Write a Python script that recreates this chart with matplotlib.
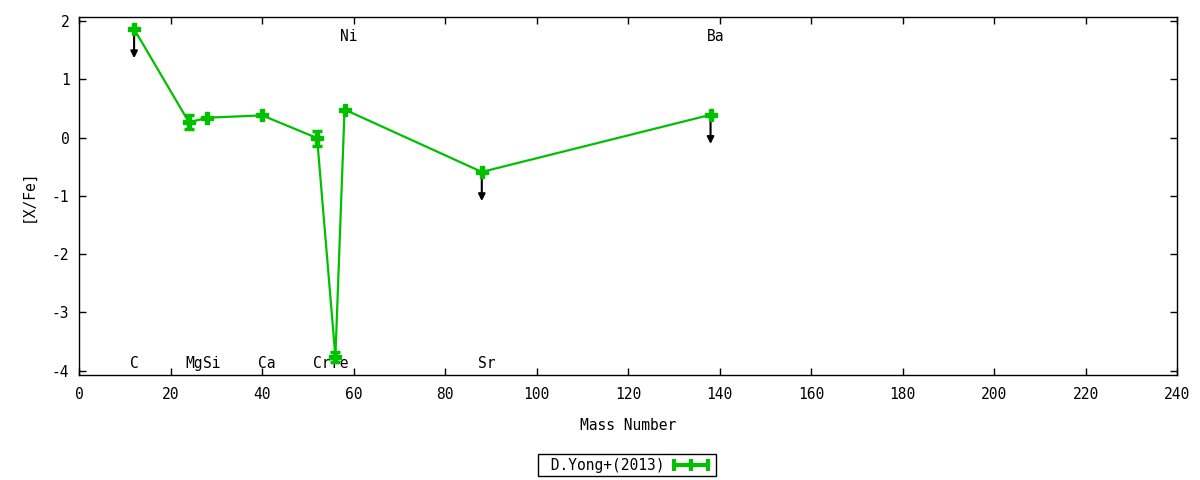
import numpy as np
import matplotlib.pyplot as plt

# abundance pattern, D.Yong+(2013)
elements = ['C', 'Mg', 'Si', 'Ca', 'Cr', 'Fe', 'Ni', 'Sr', 'Ba']
mass = [12, 24, 28, 40, 52, 56, 58, 88, 138]
xfe = [1.86, 0.26, 0.34, 0.38, -0.01, -3.76, 0.48, -0.59, 0.39]
err = [0.0, 0.12, 0.0, 0.0, 0.13, 0.09, 0.0, 0.0, 0.0]
upper_limit = [True, False, False, False, False, False, False, True, True]
label_top = ['Ni', 'Ba']

plt.rcParams['font.family'] = ['DejaVu Sans Mono']
plt.rcParams['font.size'] = 10.5
plt.rcParams['axes.unicode_minus'] = False

green = '#00c000'

fig = plt.figure(figsize=(12, 4.8), dpi=100)
ax = fig.add_axes([0.066, 0.219, 0.915, 0.746])

ax.errorbar(mass, xfe, yerr=err, color=green, lw=1.6, marker='P', ms=9,
            mec=green, mfc=green, ecolor=green, elinewidth=1.6,
            capsize=3.3, capthick=2.5, label='D.Yong+(2013)', zorder=3)

# upper limits as downward arrows
for m, v, ul in zip(mass, xfe, upper_limit):
    if ul:
        ax.annotate('', xy=(m, v - 0.5), xytext=(m, v),
                    arrowprops=dict(arrowstyle='-|>', color='black', lw=1.5,
                                    mutation_scale=10, shrinkA=0, shrinkB=0),
                    zorder=2)

# element labels
for el, m in zip(elements, mass):
    y = 1.73 if el in label_top else -3.87
    ax.text(m - 0.9, y, el, ha='left', va='center', fontsize=10.5, zorder=1)

ax.set_xlim(0, 240)
ax.set_ylim(-4.07, 2.07)
ax.set_xticks(np.arange(0, 241, 20))
ax.set_yticks(np.arange(-4, 3, 1))
ax.tick_params(direction='in', top=True, right=True, length=5, width=1,
               labelsize=10.5)
ax.tick_params(axis='x', pad=9)
ax.tick_params(axis='y', pad=7)
for s in ax.spines.values():
    s.set_linewidth(1)

ax.set_xlabel('Mass Number', labelpad=11)
ax.set_ylabel('[X/Fe]', labelpad=12)

handle = plt.Line2D([], [], color=green, lw=3, marker='|', ms=9, mew=3)
leg = fig.legend([handle], [' D.Yong+(2013)'], loc='center',
                 bbox_to_anchor=(0.5225, 0.031), markerfirst=False,
                 numpoints=3, fancybox=False, framealpha=1,
                 edgecolor='black', borderpad=0.25, handlelength=2.9,
                 handletextpad=0.4, fontsize=10.5)
leg.get_frame().set_linewidth(1)

plt.savefig('out.png', dpi=100)
plt.close()
